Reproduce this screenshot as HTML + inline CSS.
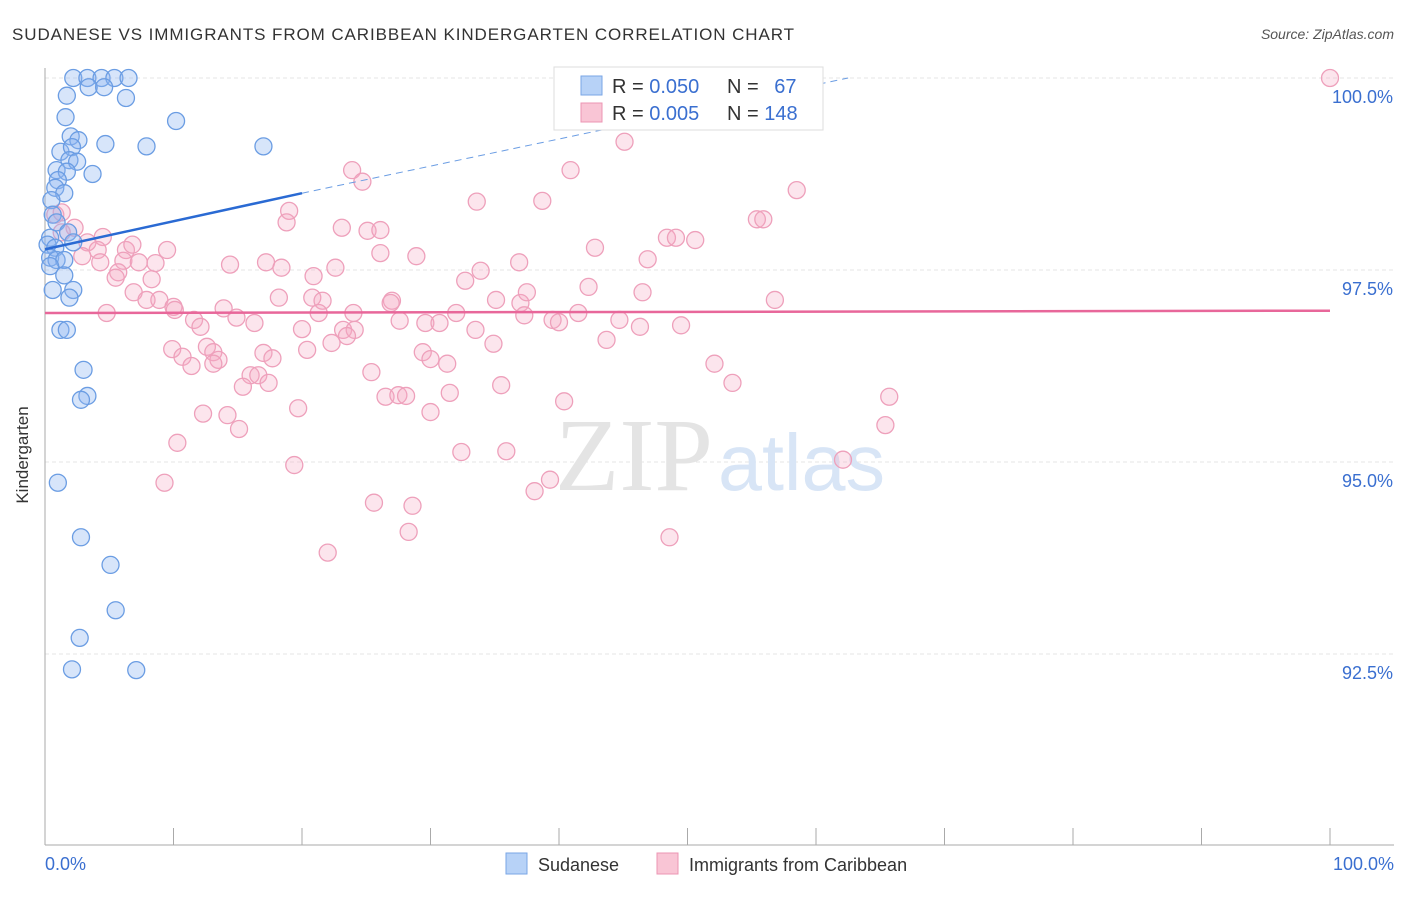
<!DOCTYPE html>
<html><head><meta charset="utf-8"><style>
body{margin:0;background:#fff;font-family:"Liberation Sans",sans-serif;}
svg text{font-family:"Liberation Sans",sans-serif;}
</style></head><body>
<svg width="1406" height="892" xmlns="http://www.w3.org/2000/svg">
<text x="12" y="40" font-size="17" fill="#333" textLength="782" lengthAdjust="spacing">SUDANESE VS IMMIGRANTS FROM CARIBBEAN KINDERGARTEN CORRELATION CHART</text>
<text x="1394" y="39" font-size="14" fill="#555" text-anchor="end" font-style="italic">Source: ZipAtlas.com</text>
<g id="grid"></g>
<g><text x="555" y="490" font-size="104" fill="#e4e4e4" style="font-family:'Liberation Serif',serif" textLength="158" lengthAdjust="spacingAndGlyphs">ZIP</text><text x="718" y="490" font-size="80" fill="#d8e5f6" textLength="167" lengthAdjust="spacingAndGlyphs">atlas</text></g>
<g id="axes"></g>
<g id="pts"></g>
<g id="trends"></g>
<text x="28" y="455" font-size="17" fill="#333" text-anchor="middle" transform="rotate(-90 28 455)">Kindergarten</text>
<g>
<rect x="554" y="67" width="269" height="63" fill="#fff" stroke="#ddd"/>
<rect x="581" y="76" width="21" height="19" fill="#b7d2f7" stroke="#7aa6e6"/>
<rect x="581" y="103" width="21" height="19" fill="#f9c5d5" stroke="#ec95b3"/>
<text x="612" y="93" font-size="20" fill="#333">R = <tspan fill="#3a6fd0">0.050</tspan></text>
<text x="727" y="93" font-size="20" fill="#333">N = <tspan fill="#3a6fd0" dx="10">67</tspan></text>
<text x="612" y="120" font-size="20" fill="#333">R = <tspan fill="#3a6fd0">0.005</tspan></text>
<text x="727" y="120" font-size="20" fill="#333">N = <tspan fill="#3a6fd0">148</tspan></text>
</g>
<g>
<rect x="506" y="853" width="21" height="21" fill="#b7d2f7" stroke="#7aa6e6"/>
<text x="538" y="871" font-size="18" fill="#333">Sudanese</text>
<rect x="657" y="853" width="21" height="21" fill="#f9c5d5" stroke="#ec95b3"/>
<text x="689" y="871" font-size="18" fill="#333">Immigrants from Caribbean</text>
</g>
</svg>
<script>
const yTicks=[100,97.5,95,92.5];
const yTickLabels=["100.0%","97.5%","95.0%","92.5%"];
const xTickLabels=["0.0%","100.0%"];
const blueX=[2.2,3.3,4.4,5.4,6.5,3.4,4.6,1.7,6.3,1.6,10.2,2.0,2.6,4.7,7.9,17.0,1.2,2.1,1.9,2.5,0.9,3.7,1.7,1.0,0.8,1.5,0.5,0.6,0.9,1.8,0.4,2.2,0.2,0.8,0.4,0.9,1.5,0.4,1.5,0.6,2.2,1.9,1.2,1.7,3.0,3.3,2.8,1.0,2.8,5.1,5.5,2.7,2.1,7.1];
const blueY=[100,100,100,100,100,99.88,99.88,99.77,99.74,99.49,99.44,99.24,99.19,99.14,99.11,99.11,99.04,99.1,98.93,98.91,98.8,98.75,98.78,98.67,98.57,98.5,98.41,98.22,98.12,97.99,97.92,97.86,97.83,97.79,97.66,97.63,97.63,97.55,97.43,97.24,97.24,97.14,96.72,96.72,96.2,95.86,95.81,94.73,94.02,93.66,93.07,92.71,92.3,92.29];
const pinkX=[100,52.4,45.1,23.9,24.7,40.9,58.5,19,18.8,33.6,38.7,55.4,55.9,23.1,25.1,26.1,0.8,1.3,2.3,1.3,4.5,3.3,4.1,6.3,6.8,9.5,2.9,4.3,6.1,7.3,8.6,5.7,5.5,8.3,14.4,17.2,18.4,20.9,22.6,26.1,28.9,33.9,32.7,36.9,42.8,46.9,48.4,49.1,50.6,6.9,7.9,8.9,10.0,10.1,4.8,13.9,18.2,20.8,21.6,21.3,24.0,27.0,26.9,32,35.1,37,37.5,37.3,41.5,42.3,46.5,56.8,11.6,12.1,14.9,16.3,20,23.2,24.1,23.5,27.6,29.6,30.7,33.5,39.5,40,44.7,46.3,49.5,43.7,22.3,34.9,9.9,10.7,11.4,12.6,13.1,13.5,13.1,17,17.7,20.4,29.4,30,31.3,25.4,16,16.6,15.4,17.4,35.5,52.1,53.5,26.5,27.5,28.1,31.5,40.4,19.7,30.0,12.3,14.2,15.1,10.3,32.4,35.9,19.4,62.1,65.4,65.7,9.3,39.3,38.1,25.6,28.6,28.3,22,48.6];
const pinkY=[100,100,99.17,98.8,98.65,98.8,98.54,98.27,98.12,98.39,98.4,98.16,98.16,98.05,98.01,98.02,98.22,98.25,98.05,97.99,97.93,97.86,97.76,97.76,97.83,97.76,97.68,97.6,97.62,97.6,97.59,97.47,97.4,97.38,97.57,97.6,97.53,97.42,97.53,97.72,97.68,97.49,97.36,97.6,97.79,97.64,97.92,97.92,97.89,97.21,97.11,97.11,97.02,96.98,96.94,97.0,97.14,97.14,97.1,96.94,96.94,97.1,97.07,96.94,97.11,97.07,97.21,96.91,96.94,97.28,97.21,97.11,96.85,96.76,96.88,96.81,96.73,96.72,96.72,96.64,96.84,96.81,96.81,96.72,96.85,96.82,96.85,96.76,96.78,96.59,96.55,96.54,96.47,96.37,96.25,96.5,96.43,96.33,96.28,96.42,96.35,96.46,96.43,96.34,96.28,96.17,96.13,96.13,95.98,96.03,96.0,96.28,96.03,95.85,95.87,95.86,95.9,95.79,95.7,95.65,95.63,95.61,95.43,95.25,95.13,95.14,94.96,95.03,95.48,95.85,94.73,94.77,94.62,94.47,94.43,94.09,93.82,94.02];
const blueTrend=[[0,97.77],[20,98.5],[62.5,100]];
const pinkTrend=[[0,96.94],[100,96.97]];
const NS="http://www.w3.org/2000/svg";
const X=v=>45+v*12.85, Y=v=>78+(100-v)*76.8;
function mk(t,a,p){const e=document.createElementNS(NS,t);for(const k in a)e.setAttribute(k,a[k]);p.appendChild(e);return e;}
const grid=document.getElementById('grid'),axes=document.getElementById('axes'),pts=document.getElementById('pts'),tr=document.getElementById('trends');
yTicks.forEach((t,i)=>{
 const l=mk('line',{x1:45,x2:1394,y1:Y(t),y2:Y(t),stroke:'#e5e5e5','stroke-dasharray':'4,3'},grid);
 
 
 const tx=mk('text',{x:1393,y:Y(t)+25,'font-size':18,fill:'#3a6fd0','text-anchor':'end'},axes);
 tx.textContent=yTickLabels[i];
 
 
});
mk('line',{x1:45,x2:45,y1:68,y2:845,stroke:'#aaa'},axes);
mk('line',{x1:45,x2:1394,y1:845,y2:845,stroke:'#aaa'},axes);
for(let i=0;i<=10;i++){mk('line',{x1:X(i*10),x2:X(i*10),y1:828,y2:845,stroke:'#aaa'},axes);}
[[0,'start',45],[1,'end',1394]].forEach(([i,a,x])=>{const t=mk('text',{x:x,y:870,'font-size':18,fill:'#3a6fd0','text-anchor':a},axes);t.textContent=xTickLabels[i];
 
 });
pinkX.forEach((x,i)=>{const c=mk('circle',{cx:X(x),cy:Y(pinkY[i]),r:8.5,fill:'rgba(246,170,196,0.3)',stroke:'#eea0bb','stroke-width':1.3},pts);
 
 });
blueX.forEach((x,i)=>{const c=mk('circle',{cx:X(x),cy:Y(blueY[i]),r:8.5,fill:'rgba(140,180,240,0.35)',stroke:'#6b9de3','stroke-width':1.3},pts);
 
 });
const b1=mk('line',{x1:X(blueTrend[0][0]),y1:Y(blueTrend[0][1]),x2:X(blueTrend[1][0]),y2:Y(blueTrend[1][1]),stroke:'#2a6ad3','stroke-width':2.5},tr);


const b2=mk('line',{x1:X(blueTrend[1][0]),y1:Y(blueTrend[1][1]),x2:X(blueTrend[2][0]),y2:Y(blueTrend[2][1]),stroke:'#6b9de3','stroke-width':1,'stroke-dasharray':'7,5'},tr);


const p1=mk('line',{x1:X(pinkTrend[0][0]),y1:Y(pinkTrend[0][1]),x2:X(pinkTrend[1][0]),y2:Y(pinkTrend[1][1]),stroke:'#e8679a','stroke-width':2.5},tr);


</script>
</body></html>
